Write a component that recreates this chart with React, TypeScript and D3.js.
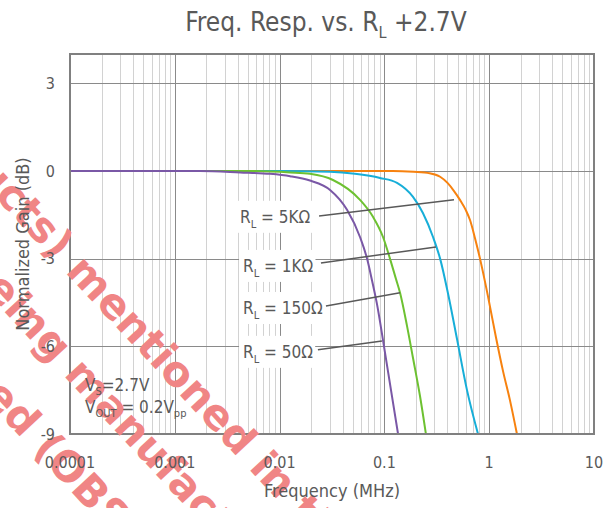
import { useEffect, useRef } from "react";
import * as d3 from "d3";

const WIDTH = 615;
const HEIGHT = 508;

const FONT = "Tahoma, 'DejaVu Sans Condensed', 'Liberation Sans', sans-serif";
const TEXT_COLOR = "#595959";

// Axis ticks
const xTickValues = [0.0001, 0.001, 0.01, 0.1, 1, 10];
const xTickLabels = ["0.0001", "0.001", "0.01", "0.1", "1", "10"];
const yTickValues = [3, 0, -3, -6, -9];
const yTickLabels = ["3", "0", "-3", "-6", "-9"];

// Series: load resistance
const seriesLabels = ["5KΩ", "1KΩ", "150Ω", "50Ω"];
const seriesColors = ["#F7820F", "#17AED8", "#6DC131", "#7A58A6"];

// Frequency (MHz) / normalized gain (dB)
const freq5K = [0.0001, 0.05, 0.12, 0.19, 0.27, 0.34, 0.4, 0.46, 0.526, 0.6, 0.656, 0.732, 0.817, 0.975, 1.161, 1.355, 1.579, 1.84];
const gain5K = [0, 0, 0, -0.03, -0.08, -0.2, -0.41, -0.68, -0.99, -1.35, -1.68, -2.3, -3.0, -4.3, -5.7, -6.85, -7.85, -9];

const freq1K = [0.0001, 0.01, 0.0303, 0.0524, 0.0908, 0.132, 0.1875, 0.233, 0.291, 0.34, 0.405, 0.493, 0.614, 0.782];
const gain1K = [0, 0, -0.03, -0.1, -0.24, -0.41, -0.89, -1.44, -2.26, -3.0, -4.2, -5.75, -7.5, -9];

const freq150 = [0.0001, 0.0052, 0.0126, 0.0195, 0.0323, 0.0585, 0.0778, 0.097, 0.113, 0.129, 0.141, 0.1643, 0.1875, 0.2186, 0.249];
const gain150 = [0, 0, -0.05, -0.1, -0.31, -0.99, -1.57, -2.26, -3.0, -3.7, -4.17, -5.3, -6.4, -7.7, -9];

const freq50 = [0.0001, 0.00174, 0.0042, 0.0081, 0.0126, 0.0195, 0.0303, 0.044, 0.0585, 0.0683, 0.0762, 0.0849, 0.0991, 0.1156, 0.135];
const gain50 = [0, 0, -0.05, -0.1, -0.18, -0.33, -0.65, -1.33, -2.26, -3.0, -3.75, -4.55, -6.0, -7.5, -9];

const seriesFreq = [freq5K, freq1K, freq150, freq50];
const seriesGain = [gain5K, gain1K, gain150, gain50];

// Callout labels and their leader lines, in data units
const labelFreq = [0.00419, 0.00448, 0.00448, 0.00448];
const labelGain = [-1.57, -3.25, -4.69, -6.19];
const leaderFromFreq = [0.0238, 0.0248, 0.0277, 0.0232];
const leaderFromGain = [-1.54, -3.15, -4.62, -6.12];
const leaderToFreq = [0.4615, 0.3105, 0.141, 0.0948];
const leaderToGain = [-0.99, -2.6, -4.17, -5.82];

// Document notice lines
const noticeHead = ["The produ", "b", "discontinu"];
const noticeTail = ["cts) mentioned in this document", "eing manufactured", "ed (OBSOLETE)"];
const noticeX = [-6, -17, -18];
const noticeY = [196, 289, 396];

export default function App() {
  const ref = useRef<SVGSVGElement>(null);

  useEffect(() => {
    const svg = d3.select(ref.current);
    svg.selectAll("*").remove();

    const x = d3.scaleLog().domain([1e-4, 10]).range([70, 594]);
    const y = d3.scaleLinear().domain([-9, 4]).range([434, 54]);
    const [x0, x1] = x.range();
    const [y0, y1] = [y(4), y(-9)];

    svg.append("rect").attr("width", WIDTH).attr("height", HEIGHT).attr("fill", "#fff");

    // Minor vertical grid
    const minor: number[] = [];
    for (let d = -4; d <= 0; d++) for (let k = 2; k <= 9; k++) minor.push(k * Math.pow(10, d));
    const grid = svg.append("g");
    grid.selectAll("line.minor").data(minor).join("line")
      .attr("x1", (d) => Math.round(x(d)) + 0.5).attr("x2", (d) => Math.round(x(d)) + 0.5)
      .attr("y1", y0).attr("y2", y1)
      .attr("stroke", "#d2d2d2").attr("stroke-width", 1);

    // Major grid
    grid.selectAll("line.vmaj").data(xTickValues.slice(1, -1)).join("line")
      .attr("x1", (d) => Math.round(x(d)) + 0.5).attr("x2", (d) => Math.round(x(d)) + 0.5)
      .attr("y1", y0).attr("y2", y1)
      .attr("stroke", "#8a8a8a").attr("stroke-width", 1);
    grid.selectAll("line.hmaj").data(yTickValues.slice(0, -1)).join("line")
      .attr("x1", x0).attr("x2", x1)
      .attr("y1", (d) => Math.round(y(d)) + 0.5).attr("y2", (d) => Math.round(y(d)) + 0.5)
      .attr("stroke", "#8a8a8a").attr("stroke-width", 1);

    // Callout labels with white backgrounds
    const labels = svg.append("g");
    seriesLabels.forEach((name, i) => {
      const g = labels.append("g");
      const t = g.append("text")
        .attr("x", x(labelFreq[i])).attr("y", y(labelGain[i]))
        .attr("dy", "0.36em")
        .attr("font-family", FONT).attr("font-size", 17).attr("fill", TEXT_COLOR);
      t.append("tspan").text("R");
      t.append("tspan").attr("dy", 5).attr("font-size", 11).text("L");
      t.append("tspan").attr("dy", -5).text(" = " + name);
      const bb = (t.node() as SVGTextElement).getBBox();
      g.insert("rect", "text")
        .attr("x", bb.x - 4).attr("y", y(labelGain[i]) - 16)
        .attr("width", bb.width + 6).attr("height", 32)
        .attr("fill", "#fff");
    });

    // Response curves
    const line = d3.line<[number, number]>()
      .x((d) => x(d[0])).y((d) => y(d[1]))
      .curve(d3.curveMonotoneX);
    seriesFreq.forEach((fs, i) => {
      const pts = fs.map((f, j) => [f, seriesGain[i][j]] as [number, number]);
      svg.append("path").attr("d", line(pts)).attr("fill", "none")
        .attr("stroke", seriesColors[i]).attr("stroke-width", 2);
    });

    // Leader lines
    seriesLabels.forEach((_, i) => {
      svg.append("line")
        .attr("x1", x(leaderFromFreq[i])).attr("y1", y(leaderFromGain[i]))
        .attr("x2", x(leaderToFreq[i])).attr("y2", y(leaderToGain[i]))
        .attr("stroke", "#595959").attr("stroke-width", 1.5);
    });

    // Plot frame
    svg.append("rect").attr("x", x0).attr("y", y0).attr("width", x1 - x0).attr("height", y1 - y0)
      .attr("fill", "none").attr("stroke", "#808080").attr("stroke-width", 2);

    // Notice overlay
    const notice = svg.append("g")
      .attr("font-family", "'DejaVu Sans', sans-serif").attr("font-weight", "bold")
      .attr("font-size", 42).attr("fill", "#F08585");
    noticeTail.forEach((tail, i) => {
      const t = notice.append("text").attr("transform", `translate(${noticeX[i]},${noticeY[i]}) rotate(47)`);
      t.append("tspan").attr("x", 0).attr("text-anchor", "end").text(noticeHead[i]);
      t.append("tspan").attr("x", 0).attr("text-anchor", "start").text(tail);
    });

    const txt = svg.append("g").attr("font-family", FONT).attr("fill", TEXT_COLOR);

    // Tick labels
    txt.selectAll("text.xt").data(xTickValues).join("text")
      .attr("x", (d) => x(d)).attr("y", 468).attr("text-anchor", "middle")
      .attr("font-size", 16).text((_, i) => xTickLabels[i]);
    txt.selectAll("text.yt").data(yTickValues).join("text")
      .attr("x", 55).attr("y", (d) => y(d)).attr("dy", "0.36em").attr("text-anchor", "end")
      .attr("font-size", 16).text((_, i) => yTickLabels[i]);

    // Axis titles
    txt.append("text").attr("x", (x0 + x1) / 2).attr("y", 497).attr("text-anchor", "middle")
      .attr("font-size", 18).text("Frequency (MHz)");
    txt.append("text").attr("transform", `translate(29,${(y0 + y1) / 2}) rotate(-90)`)
      .attr("text-anchor", "middle").attr("font-size", 18).text("Normalized Gain (dB)");

    // Chart title
    const title = txt.append("text").attr("x", 326).attr("y", 31).attr("text-anchor", "middle")
      .attr("font-size", 26);
    title.append("tspan").text("Freq. Resp. vs. R");
    title.append("tspan").attr("dy", 7).attr("font-size", 16).text("L");
    title.append("tspan").attr("dy", -7).text(" +2.7V");

    // Test conditions
    const c1 = txt.append("text").attr("x", 85).attr("y", 391).attr("font-size", 17);
    c1.append("tspan").text("V");
    c1.append("tspan").attr("dy", 4).attr("font-size", 11).text("S");
    c1.append("tspan").attr("dy", -4).text("=2.7V");
    const c2 = txt.append("text").attr("x", 85).attr("y", 413).attr("font-size", 17);
    c2.append("tspan").text("V");
    c2.append("tspan").attr("dy", 4).attr("font-size", 11).text("OUT");
    c2.append("tspan").attr("dy", -4).text(" = 0.2V");
    c2.append("tspan").attr("dy", 4).attr("font-size", 11).text("pp");
  }, []);

  return (
    <svg
      ref={ref}
      width={WIDTH}
      height={HEIGHT}
      style={{ position: "fixed", left: 0, top: 0, display: "block" }}
    />
  );
}
